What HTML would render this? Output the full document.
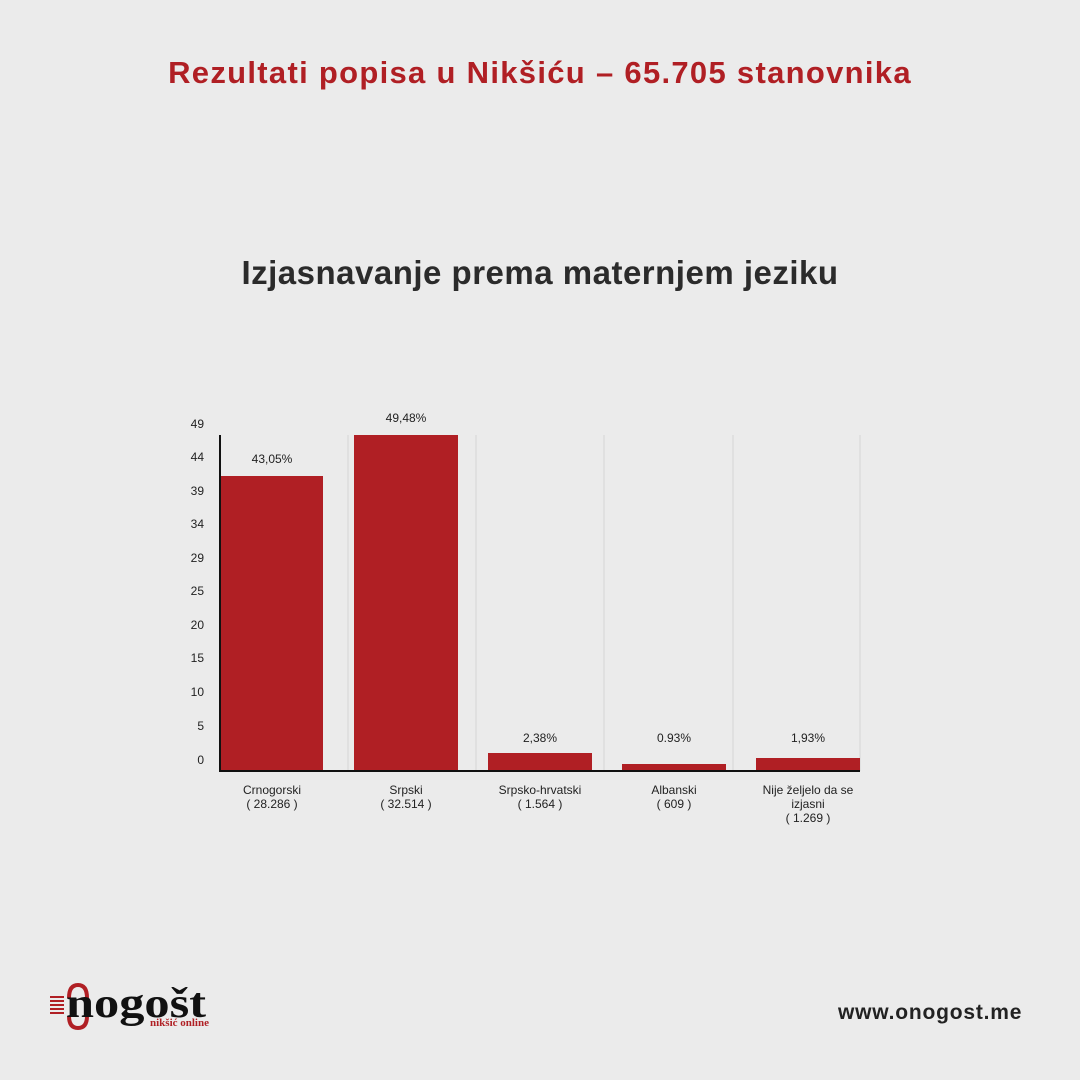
<!DOCTYPE html>
<html><head><meta charset="utf-8"><style>
body{margin:0;width:1080px;height:1080px;background:#ebebeb;position:relative;font-family:"Liberation Sans",sans-serif;overflow:hidden}
.a{position:absolute}
.t{left:0;width:1080px;text-align:center}
.yl{left:180px;width:24px;text-align:right;font-size:12px;color:#222}
.bar{background:#b01f24;position:absolute}
.g{position:absolute;top:435px;height:336px;width:2px;background:#e0e0e0}
.v{font-size:12px;color:#222;text-align:center;width:140px}
.x{font-size:12px;color:#222;text-align:center;width:140px;line-height:14px;top:783px}
</style></head><body>
<div class="a t" style="top:55px;font-size:31px;font-weight:bold;color:#b01f24;letter-spacing:1.3px">Rezultati popisa u Nikšiću – 65.705 stanovnika</div>
<div class="a t" style="top:254px;font-size:33px;font-weight:bold;color:#2b2b2b;letter-spacing:0.5px">Izjasnavanje prema maternjem jeziku</div>

<div class="g" style="left:347px"></div><div class="g" style="left:475px"></div><div class="g" style="left:603px"></div><div class="g" style="left:732px"></div><div class="g" style="left:859px"></div>

<div class="a yl" style="top:417px">49</div>
<div class="a yl" style="top:450px">44</div>
<div class="a yl" style="top:484px">39</div>
<div class="a yl" style="top:517px">34</div>
<div class="a yl" style="top:551px">29</div>
<div class="a yl" style="top:584px">25</div>
<div class="a yl" style="top:618px">20</div>
<div class="a yl" style="top:651px">15</div>
<div class="a yl" style="top:685px">10</div>
<div class="a yl" style="top:719px">5</div>
<div class="a yl" style="top:753px">0</div>

<div class="bar" style="left:221px;width:102px;top:476px;height:295px"></div>
<div class="bar" style="left:354px;width:104px;top:435px;height:336px"></div>
<div class="bar" style="left:488px;width:104px;top:753px;height:18px"></div>
<div class="bar" style="left:622px;width:104px;top:764px;height:7px"></div>
<div class="bar" style="left:756px;width:104px;top:758px;height:13px"></div>

<div class="a" style="left:219px;top:435px;width:2px;height:337px;background:#111"></div>
<div class="a" style="left:219px;top:770px;width:641px;height:2px;background:#111"></div>

<div class="a v" style="left:202px;top:452px">43,05%</div>
<div class="a v" style="left:336px;top:411px">49,48%</div>
<div class="a v" style="left:470px;top:731px">2,38%</div>
<div class="a v" style="left:604px;top:731px">0.93%</div>
<div class="a v" style="left:738px;top:731px">1,93%</div>

<div class="a x" style="left:202px">Crnogorski<br>( 28.286 )</div>
<div class="a x" style="left:336px">Srpski<br>( 32.514 )</div>
<div class="a x" style="left:470px">Srpsko-hrvatski<br>( 1.564 )</div>
<div class="a x" style="left:604px">Albanski<br>( 609 )</div>
<div class="a x" style="left:738px">Nije željelo da se<br>izjasni<br>( 1.269 )</div>

<svg class="a" style="left:50px;top:980px" width="170" height="52">
<g fill="#b01f24"><rect x="0" y="16" width="14" height="2"/><rect x="0" y="20" width="14" height="2"/><rect x="0" y="24" width="14" height="2"/><rect x="0" y="28" width="14" height="2"/><rect x="0" y="32" width="14" height="2"/></g>
<path d="M19 18 Q19 5 28 5 Q37 5 37 18" fill="none" stroke="#b01f24" stroke-width="4"/>
<path d="M19 36 Q19 48 28 48 Q37 48 37 36" fill="none" stroke="#b01f24" stroke-width="4"/>
<text x="16" y="37" font-family="Liberation Serif,serif" font-weight="bold" font-size="42" fill="#111" textLength="140" lengthAdjust="spacingAndGlyphs">nogošt</text>
<text x="100" y="46" font-family="Liberation Serif,serif" font-weight="bold" font-size="11" fill="#b01f24">nikšić online</text>
</svg>
<div class="a" style="left:838px;top:1001px;font-size:21px;font-weight:bold;color:#222;letter-spacing:0.8px">www.onogost.me</div>
</body></html>
